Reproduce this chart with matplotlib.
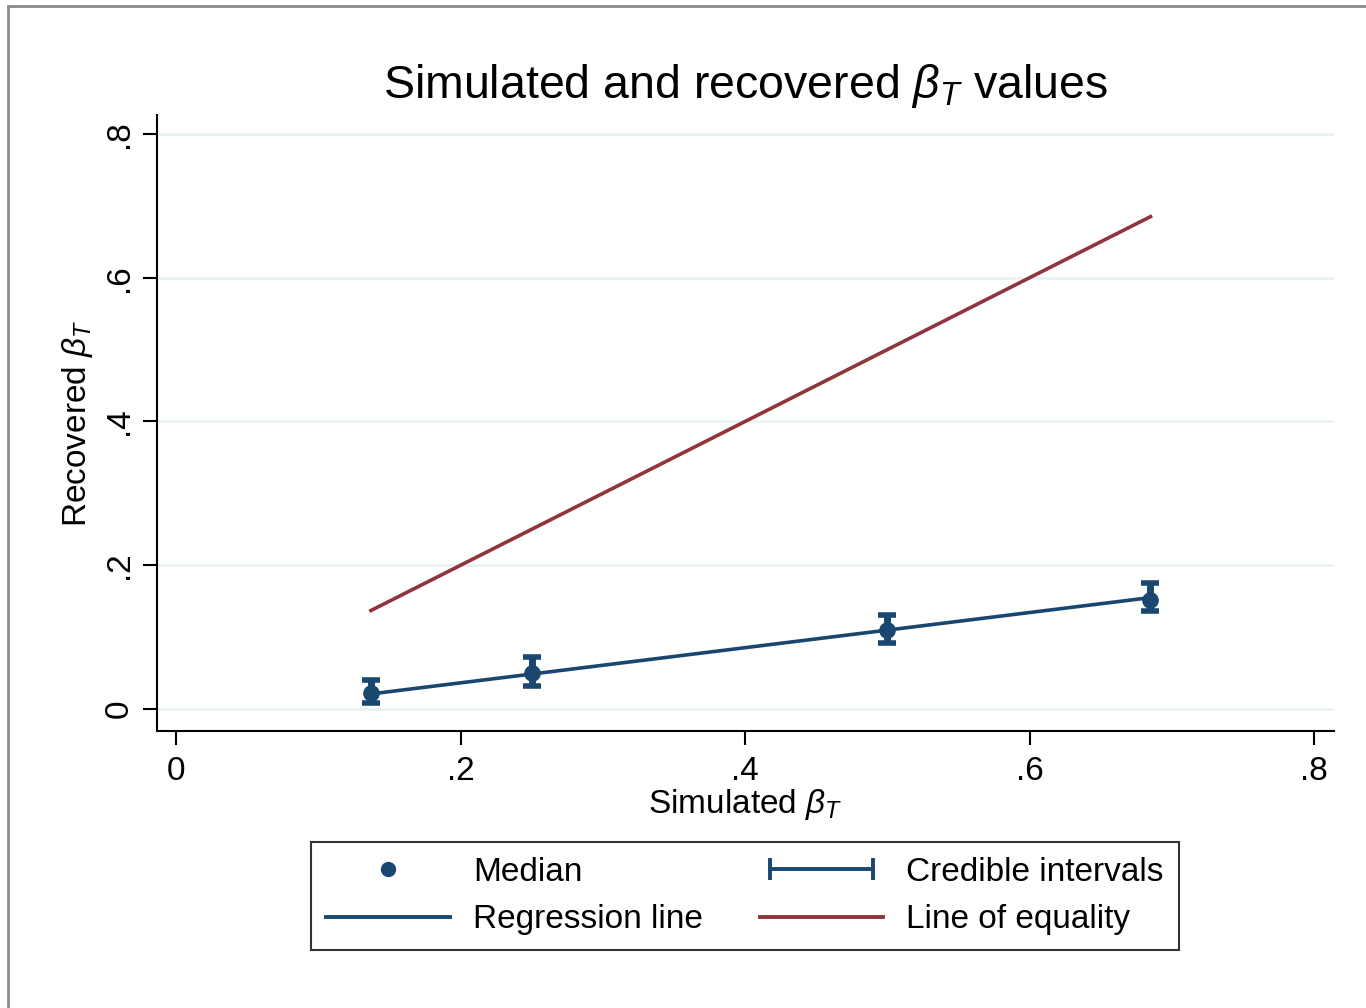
import numpy as np
import matplotlib
matplotlib.use("Agg")
from matplotlib import pyplot as plt
from matplotlib.lines import Line2D
from matplotlib.legend_handler import HandlerLine2D
from matplotlib.patches import Rectangle

# ---- data -------------------------------------------------------------------
sim_beta   = [0.137, 0.250, 0.500, 0.685]
med_beta   = [0.022, 0.050, 0.110, 0.152]
ci_low     = [0.008, 0.032, 0.092, 0.136]
ci_high    = [0.040, 0.072, 0.131, 0.175]
reg_x      = [0.137, 0.685]
reg_y      = [0.021, 0.155]
eq_x       = [0.137, 0.685]
eq_y       = [0.137, 0.685]
tick_vals  = [0, 0.2, 0.4, 0.6, 0.8]
tick_lbls  = ["0", ".2", ".4", ".6", ".8"]

navy   = "#1a476f"
maroon = "#90353b"
grid_c = "#eaf2f3"

plt.rcParams["font.family"] = ["Liberation Sans", "DejaVu Sans"]
plt.rcParams["mathtext.fontset"] = "custom"
plt.rcParams["mathtext.rm"] = "Liberation Sans"
plt.rcParams["mathtext.it"] = "Liberation Sans:italic"

fig = plt.figure(figsize=(13.66, 10.08), dpi=100)
fig.patches.append(Rectangle((8/1366, -0.1), 1.2, (1008-6)/1008 + 0.1,
                             transform=fig.transFigure, fill=False,
                             edgecolor="#8a8a8a", linewidth=2))
ax = fig.add_axes([157/1366, 1-731/1008, (1334-157)/1366, (731-115)/1008])

for v in tick_vals:
    ax.axhline(v, color=grid_c, linewidth=2, zorder=0)

ax.plot(eq_x, eq_y, color=maroon, linewidth=2.6, zorder=2)
ax.plot(reg_x, reg_y, color=navy, linewidth=2.6, zorder=2)
yerr = [np.array(med_beta) - np.array(ci_low), np.array(ci_high) - np.array(med_beta)]
ax.errorbar(sim_beta, med_beta, yerr=yerr, fmt="none", ecolor=navy,
            elinewidth=5, capsize=6.5, capthick=4, zorder=3)
ax.plot(sim_beta, med_beta, "o", color=navy, markersize=11, zorder=4)

ax.set_xlim(-0.0134, 0.814)
ax.set_ylim(-0.0306, 0.8264)
ax.set_xticks(tick_vals)
ax.set_xticklabels(tick_lbls)
ax.set_yticks(tick_vals)
ax.set_yticklabels(tick_lbls, rotation=90, va="center")
ax.tick_params(axis="both", direction="out", length=10, width=1.5,
               labelsize=24, pad=8)
ax.tick_params(axis="y", pad=6)
for s in ["top", "right"]:
    ax.spines[s].set_visible(False)
for s in ["left", "bottom"]:
    ax.spines[s].set_linewidth(1.5)

ax.set_xlabel(r"Simulated $\beta_T$", fontsize=24, labelpad=0)
ax.set_ylabel(r"Recovered $\beta_T$", fontsize=24, labelpad=6)
ax.set_title(r"Simulated and recovered $\beta_T$ values", fontsize=33.5, pad=12)

h_med = Line2D([], [], marker="o", linestyle="none", color=navy, markersize=10)
h_reg = Line2D([], [], color=navy, linewidth=2.8)
h_ci  = Line2D([0, 1], [0, 0], color=navy, linewidth=2.8, marker="|",
               markersize=16, markeredgewidth=2.8)
h_eq  = Line2D([], [], color=maroon, linewidth=2.8)
leg = fig.legend([h_med, h_reg, h_ci, h_eq],
                 ["Median", "Regression line", "Credible intervals", "Line of equality"],
                 ncol=2, loc="center", bbox_to_anchor=(745/1366, 1-896/1008),
                 fontsize=24, frameon=True, fancybox=False, edgecolor="black",
                 handlelength=3.7, columnspacing=1.7, handletextpad=0.7,
                 labelspacing=0.5, borderpad=0.45, borderaxespad=0,
                 handler_map={h_ci: HandlerLine2D(numpoints=2)})
leg.get_frame().set_linewidth(1.5)

fig.savefig("out.png", dpi=100)
